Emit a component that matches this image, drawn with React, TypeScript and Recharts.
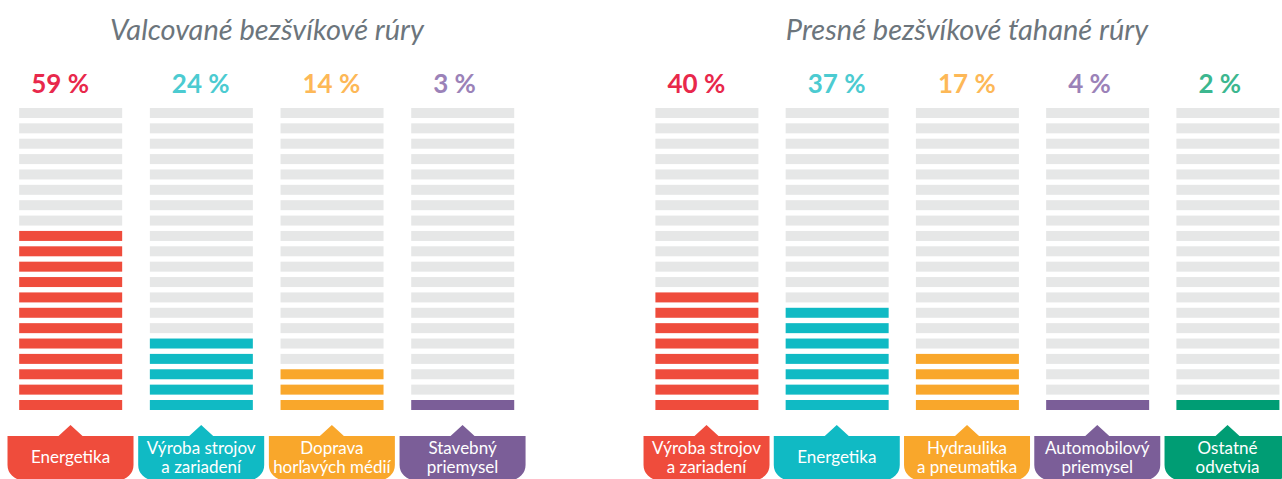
import { BarChart, Bar, XAxis, YAxis, Cell, LabelList } from "recharts";

const STRIPES = 20;
const GRAY = "#e6e7e7";
const FONT = "Lato, 'Open Sans', sans-serif";

const leftTitle = "Valcované bezšvíkové rúry";
const leftCategories = ["Energetika", "Výroba strojov\na zariadení", "Doprava\nhorľavých médií", "Stavebný\npriemysel"];
const leftPercents = [59, 24, 14, 3];
// coloured stripes (out of 20) as drawn in the picture
const leftFilled = [12, 5, 3, 1];

const rightTitle = "Presné bezšvíkové ťahané rúry";
const rightCategories = ["Výroba strojov\na zariadení", "Energetika", "Hydraulika\na pneumatika", "Automobilový\npriemysel", "Ostatné\nodvetvia"];
const rightPercents = [40, 37, 17, 4, 2];
const rightFilled = [8, 7, 4, 1, 1];

const BAR_COLORS: Record<string, string> = {
  red: "#ef4c3c",
  teal: "#10bac4",
  orange: "#f9a72b",
  purple: "#7b5e98",
  green: "#009d74",
};
const TEXT_COLORS: Record<string, string> = {
  red: "#e8284b",
  teal: "#4ccbd1",
  orange: "#fdb857",
  purple: "#9b82b8",
  green: "#3cb78f",
};
const leftTones = ["red", "teal", "orange", "purple"];
const rightTones = ["red", "teal", "orange", "purple", "green"];

const seriesKeys = Array.from({ length: STRIPES }, (_, s) => `s${s}`);

const buildRows = (cats: string[], pcts: number[]) =>
  cats.map((name, i) => {
    const row: Record<string, any> = { name, pct: pcts[i] };
    seriesKeys.forEach((k) => (row[k] = 1));
    return row;
  });

const Stripe = (props: any) => {
  const { x, y, width, height, fill } = props;
  const h = height * 0.65;
  return <rect x={x} y={y + height - h} width={width} height={h} fill={fill} />;
};

const makePctLabel = (pcts: number[], tones: string[]) => (props: any) => {
  const { x, y, index } = props;
  const dx = index === 0 ? 12 : 22;
  return (
    <text
      x={x + dx}
      y={y - 9.6}
      fill={TEXT_COLORS[tones[index]]}
      fontFamily={FONT}
      fontWeight={700}
      fontSize={26}
    >
      {pcts[index]} %
    </text>
  );
};

const makeBadge = (tones: string[]) => (props: any) => {
  const { x, y, payload } = props;
  const tone = tones[payload.index];
  const lines = String(payload.value).split("\n");
  const w = 126;
  const top = y + 26;
  const tipY = y + 15;
  const half = 12;
  const r = 15;
  const bottom = y + 70;
  const l = x - w / 2;
  const rt = x + w / 2;
  const d = `M${l},${top} H${x - half} L${x},${tipY} L${x + half},${top} H${rt} V${bottom - r} A${r},${r} 0 0 1 ${rt - r},${bottom} H${l + r} A${r},${r} 0 0 1 ${l},${bottom - r} Z`;
  const baselines = lines.length === 1 ? [y + 52.5] : [y + 43.5, y + 62.5];
  return (
    <g>
      <path d={d} fill={BAR_COLORS[tone]} />
      {lines.map((line, i) => (
        <text key={i} x={x} y={baselines[i]} textAnchor="middle" fill="#ffffff" fontFamily={FONT} fontSize={17}>
          {line}
        </text>
      ))}
    </g>
  );
};

interface GroupProps {
  categories: string[];
  percents: number[];
  filled: number[];
  tones: string[];
  width: number;
  margin: { top: number; right: number; bottom: number; left: number };
}

const StripeGroup = ({ categories, percents, filled, tones, width, margin }: GroupProps) => {
  const rows = buildRows(categories, percents);
  return (
    <BarChart width={width} height={479} data={rows} margin={margin} barSize={103}>
      <XAxis
        dataKey="name"
        axisLine={false}
        tickLine={false}
        tickSize={0}
        tickMargin={0}
        height={69}
        interval={0}
        tick={makeBadge(tones)}
      />
      <YAxis hide domain={[0, STRIPES]} />
      {seriesKeys.map((key, s) => (
        <Bar key={key} dataKey={key} stackId="stripes" isAnimationActive={false} shape={<Stripe />}>
          {rows.map((_, i) => (
            <Cell key={i} fill={s < filled[i] ? BAR_COLORS[tones[i]] : GRAY} />
          ))}
          {s === STRIPES - 1 && <LabelList dataKey="pct" content={makePctLabel(percents, tones)} />}
        </Bar>
      ))}
    </BarChart>
  );
};

const titleStyle = (center: number): React.CSSProperties => ({
  position: "absolute",
  left: center - 300,
  width: 600,
  top: 14.3,
  textAlign: "center",
  fontFamily: FONT,
  fontStyle: "italic",
  fontSize: 29,
  lineHeight: "29px",
  color: "#6c757c",
});

export default function App() {
  return (
    <div style={{ position: "absolute", left: 0, top: 0, width: 1282, height: 479, overflow: "hidden", background: "#fff" }}>
      <div style={{ position: "absolute", left: 0, top: 0 }}>
        <StripeGroup
          categories={leftCategories}
          percents={leftPercents}
          filled={leftFilled}
          tones={leftTones}
          width={640}
          margin={{ top: 102.6, right: 112.1, bottom: 0, left: 5.17 }}
        />
      </div>
      <div style={{ position: "absolute", left: 640, top: 0 }}>
        <StripeGroup
          categories={rightCategories}
          percents={rightPercents}
          filled={rightFilled}
          tones={rightTones}
          width={653}
          margin={{ top: 102.6, right: 0.35, bottom: 0, left: 1.4 }}
        />
      </div>
      <div style={titleStyle(267)}>{leftTitle}</div>
      <div style={titleStyle(967)}>{rightTitle}</div>
    </div>
  );
}
